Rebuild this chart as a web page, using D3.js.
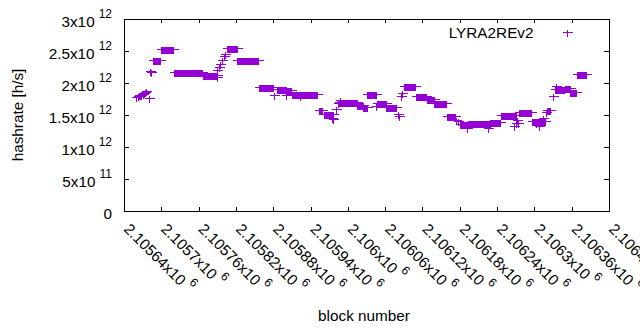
<!DOCTYPE html>
<html lang="en">
<head>
<meta charset="UTF-8">
<script src="https://d3js.org/d3.v7.min.js"></script>
<title>LYRA2REv2 hashrate</title>
<style>
  body { margin: 0; background: #fff; }
  text { font-family: "Liberation Sans", Arial, sans-serif; fill: #000; }
</style>
</head>
<body>
<div id="chart"></div>
<script>
// x ticks (block number) and y ticks (hashrate)
const xTicks = [2105640, 2105700, 2105760, 2105820, 2105880, 2105940, 2106000,
                2106060, 2106120, 2106180, 2106240, 2106300, 2106360, 2106420];
const yTicks = [0, 5e11, 1e12, 1.5e12, 2e12, 2.5e12, 3e12];
const yTickMant = ["0", "5x10", "1x10", "1.5x10", "2x10", "2.5x10", "3x10"];
const yTickExp = ["", "11", "12", "12", "12", "12", "12"];

// runs of blocks sharing the same hashrate estimate
const runStart = [2105687, 2105700, 2105720, 2105767, 2105806, 2105822, 2105857, 2105886,
                  2105901, 2105910, 2105953, 2105961, 2105986, 2106015, 2106025, 2106031,
                  2106047, 2106062, 2106090, 2106109, 2106127, 2106139, 2106160, 2106180,
                  2106194, 2106229, 2106246, 2106275, 2106296, 2106321, 2106335, 2106349,
                  2106358, 2106368];
const runEnd   = [2105698, 2105719, 2105766, 2105789, 2105821, 2105855, 2105879, 2105900,
                  2105909, 2105951, 2105959, 2105976, 2106014, 2106024, 2106030, 2106046,
                  2106061, 2106077, 2106108, 2106126, 2106138, 2106158, 2106172, 2106193,
                  2106228, 2106245, 2106270, 2106295, 2106317, 2106325, 2106348, 2106357,
                  2106367, 2106383];
const runValue = [2.355e12, 2.527e12, 2.167e12, 2.13e12, 2.54e12, 2.355e12, 1.933e12, 1.90e12,
                  1.886e12, 1.835e12, 1.573e12, 1.516e12, 1.705e12, 1.65e12, 1.62e12, 1.823e12,
                  1.68e12, 1.62e12, 1.95e12, 1.79e12, 1.745e12, 1.68e12, 1.48e12, 1.36e12,
                  1.37e12, 1.39e12, 1.495e12, 1.54e12, 1.406e12, 1.58e12, 1.90e12, 1.92e12,
                  1.855e12, 2.136e12];

// single blocks off the runs
const pointBlock = [2105660, 2105662, 2105664, 2105666, 2105668, 2105670, 2105672, 2105674,
                    2105676, 2105680, 2105682, 2105683, 2105789, 2105790, 2105793, 2105795,
                    2105798, 2105801, 2105803, 2105882, 2105901, 2105923, 2105974, 2105976,
                    2105981, 2105984, 2105987, 2106046, 2106081, 2106083, 2106086, 2106087,
                    2106174, 2106177, 2106192, 2106225, 2106268, 2106270, 2106272, 2106273,
                    2106302, 2106308, 2106314, 2106319, 2106330, 2106333, 2106335];
const pointValue = [1.78e12, 1.80e12, 1.81e12, 1.82e12, 1.82e12, 1.83e12, 1.84e12, 1.86e12,
                    1.88e12, 1.76e12, 2.19e12, 2.17e12, 2.09e12, 2.20e12, 2.25e12, 2.30e12,
                    2.36e12, 2.42e12, 2.46e12, 1.82e12, 1.81e12, 1.80e12, 1.46e12, 1.44e12,
                    1.60e12, 1.68e12, 1.73e12, 1.64e12, 1.51e12, 1.48e12, 1.80e12, 1.84e12,
                    1.42e12, 1.40e12, 1.30e12, 1.29e12, 1.33e12, 1.37e12, 1.42e12, 1.38e12,
                    1.38e12, 1.33e12, 1.45e12, 1.54e12, 1.80e12, 1.90e12, 1.96e12];

const points = [];
runStart.forEach((s, i) => {
  for (let b = s; b <= runEnd[i]; b++) points.push({block: b, value: runValue[i]});
});
pointBlock.forEach((b, i) => points.push({block: b, value: pointValue[i]}));

const width = 640, height = 330;
const plotL = 124, plotR = 609, plotT = 19, plotB = 211;
const color = "#9400d3";

const svg = d3.select("#chart").append("svg")
  .attr("width", width).attr("height", height);

const x = d3.scaleLinear().domain([2105640, 2106420]).range([plotL, plotR]);
const y = d3.scaleLinear().domain([0, 3e12]).range([plotB, plotT]);

// ticks, mirrored on all four sides, pointing inward
svg.append("g").attr("transform", `translate(0,${plotB})`)
  .call(d3.axisBottom(x).tickValues(xTicks).tickSizeInner(-4).tickSizeOuter(0).tickFormat(""));
svg.append("g").attr("transform", `translate(0,${plotT})`)
  .call(d3.axisTop(x).tickValues(xTicks).tickSizeInner(-4).tickSizeOuter(0).tickFormat(""));
svg.append("g").attr("transform", `translate(${plotL},0)`)
  .call(d3.axisLeft(y).tickValues(yTicks).tickSizeInner(-5).tickSizeOuter(0).tickFormat(""));
svg.append("g").attr("transform", `translate(${plotR},0)`)
  .call(d3.axisRight(y).tickValues(yTicks).tickSizeInner(-5).tickSizeOuter(0).tickFormat(""));
svg.selectAll(".domain").remove();
svg.selectAll(".tick line").attr("stroke", "#000").attr("shape-rendering", "crispEdges");

svg.append("rect")
  .attr("x", plotL + 0.5).attr("y", plotT + 0.5)
  .attr("width", plotR - plotL).attr("height", plotB - plotT)
  .attr("fill", "none").attr("stroke", "#000").attr("shape-rendering", "crispEdges");

// y tick labels
const yl = svg.append("g").selectAll("text").data(yTicks).enter().append("text")
  .attr("x", 112).attr("y", d => y(d) + 8)
  .attr("text-anchor", "end")
  .style("font-size", "15.3px");
yl.append("tspan").text((d, i) => yTickMant[i]);
yl.append("tspan").attr("dx", 4).attr("dy", -9).style("font-size", "12px")
  .text((d, i) => yTickExp[i]);

// x tick labels, rotated
const xl = svg.append("g").selectAll("text").data(xTicks).enter().append("text")
  .attr("transform", d => `translate(${x(d) - 1},${230}) rotate(45)`)
  .style("font-size", "15.3px");
xl.append("tspan").text(d => String(+(d / 1e6).toFixed(5)) + "x10");
xl.append("tspan").attr("dx", 4).attr("dy", -9).style("font-size", "12px").text("6");

// axis titles
svg.append("text")
  .attr("transform", `translate(23,115) rotate(-90)`)
  .attr("text-anchor", "middle").style("font-size", "15.3px")
  .text("hashrate [h/s]");
svg.append("text")
  .attr("x", 364).attr("y", 321)
  .attr("text-anchor", "middle").style("font-size", "15.3px")
  .text("block number");

// points
const plus = "M-5,0H5M0,-3V4";
svg.append("g").selectAll("path").data(points).enter().append("path")
  .attr("transform", d => `translate(${Math.round(x(d.block)) + 0.5},${Math.round(y(d.value)) + 0.5})`)
  .attr("d", plus)
  .attr("stroke", color).attr("stroke-width", 1).attr("fill", "none")
  .attr("shape-rendering", "crispEdges");

// legend
svg.append("text")
  .attr("x", 533.5).attr("y", 37.5)
  .attr("text-anchor", "end").style("font-size", "15.3px")
  .text("LYRA2REv2");
svg.append("path")
  .attr("transform", "translate(567.5,32.5)")
  .attr("d", plus)
  .attr("stroke", color).attr("fill", "none").attr("shape-rendering", "crispEdges");
</script>
</body>
</html>
